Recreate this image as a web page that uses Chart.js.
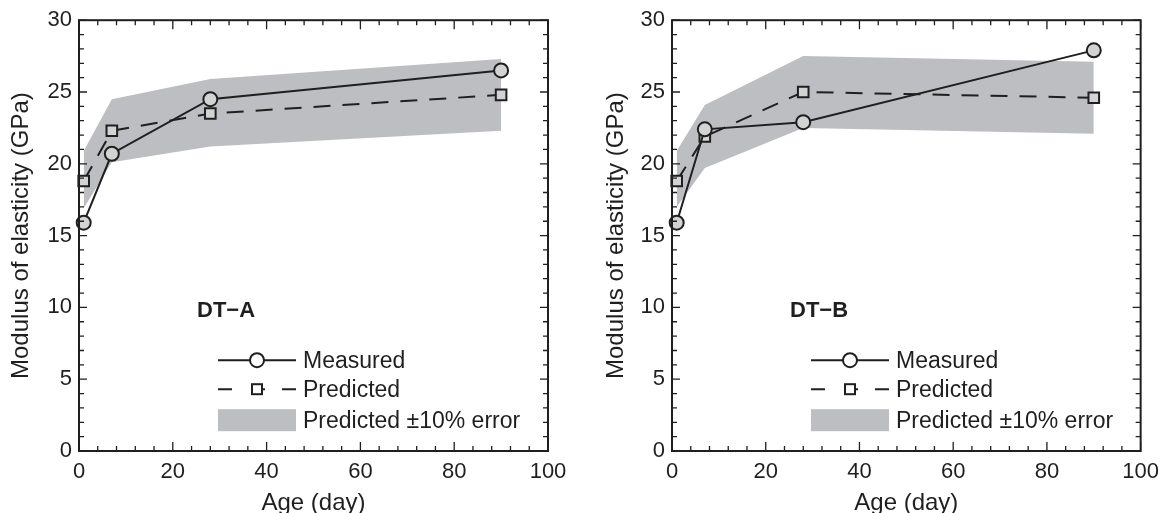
<!DOCTYPE html>
<html>
<head>
<meta charset="utf-8">
<script src="https://cdn.jsdelivr.net/npm/chart.js@4"></script>
<style>
  html, body { margin: 0; padding: 0; background: #fff; }
  .wrap { position: absolute; top: 0; height: 513px; }
  #boxA { left: 0; width: 583px; }
  #boxB { left: 595px; width: 572px; }
</style>
</head>
<body>
<div class="wrap" id="boxA"><canvas id="chartA"></canvas></div>
<div class="wrap" id="boxB"><canvas id="chartB"></canvas></div>
<script>
// ages where the specimens were tested
const ages = [1, 7, 28, 90];

// DT-A
const measuredA = [15.9, 20.7, 24.5, 26.5];
const predictedA = [18.8, 22.3, 23.5, 24.8];
const upperA = [20.9, 24.5, 25.9, 27.3];
const lowerA = [16.9, 20.1, 21.2, 22.3];

// DT-B
const measuredB = [15.9, 22.4, 22.9, 27.9];
const predictedB = [18.8, 21.9, 25.0, 24.6];
const upperB = [20.9, 24.1, 27.5, 27.1];
const lowerB = [17.0, 19.7, 22.5, 22.1];

const xTicks = [0, 20, 40, 60, 80, 100];
const yTicks = [0, 5, 10, 15, 20, 25, 30];
const legendLabels = ["Measured", "Predicted", "Predicted \u00b110% error"];

const FONT = "'Liberation Sans', Arial, Helvetica, sans-serif";
const INK = "#1f1f1f";
const BAND = "#bdbec1";
const MARKER = "#d3d3d3";

const pts = ys => ages.map((x, i) => ({ x, y: ys[i] }));

/* frame + inward ticks on all four sides */
const frameTicks = {
  id: "frameTicks",
  afterDraw(chart) {
    const { ctx, chartArea: a, scales } = chart;
    const xs = scales.x, ys = scales.y;
    ctx.save();
    ctx.strokeStyle = INK;
    ctx.lineWidth = 2;
    ctx.strokeRect(a.left, a.top, a.right - a.left, a.bottom - a.top);
    ctx.lineWidth = 1.3;
    ctx.beginPath();
    for (let v = 0; v <= 100; v += 4) {
      const len = v % 20 === 0 ? 9 : 5;
      const px = xs.getPixelForValue(v);
      ctx.moveTo(px, a.bottom); ctx.lineTo(px, a.bottom - len);
      ctx.moveTo(px, a.top); ctx.lineTo(px, a.top + len);
    }
    for (let v = 0; v <= 30; v += 1) {
      const len = v % 5 === 0 ? 8 : 5;
      const py = ys.getPixelForValue(v);
      ctx.moveTo(a.left, py); ctx.lineTo(a.left + len, py);
      ctx.moveTo(a.right, py); ctx.lineTo(a.right - len, py);
    }
    ctx.stroke();
    ctx.restore();
  }
};

/* legend and panel label inside the plot */
const innerLegend = {
  id: "innerLegend",
  afterDraw(chart) {
    const { ctx, chartArea: a } = chart;
    const tag = chart.options.plugins.innerLegend.tag;
    const L = a.left + 139, W = 78, mid = L + W / 2;
    const rows = [a.top + 340, a.top + 369, a.top + 400];
    ctx.save();
    ctx.fillStyle = INK;
    ctx.font = "bold 22px " + FONT;
    ctx.textBaseline = "middle";
    ctx.fillText(tag, a.left + 118, a.top + 291);

    ctx.strokeStyle = INK;
    ctx.lineWidth = 2;
    // measured
    ctx.beginPath();
    ctx.moveTo(L, rows[0]); ctx.lineTo(L + W, rows[0]);
    ctx.stroke();
    ctx.beginPath();
    ctx.arc(mid, rows[0], 7, 0, Math.PI * 2);
    ctx.fillStyle = "#fff";
    ctx.fill(); ctx.stroke();
    // predicted
    ctx.beginPath();
    ctx.moveTo(L, rows[1]); ctx.lineTo(L + 14, rows[1]);
    ctx.moveTo(L + W - 14, rows[1]); ctx.lineTo(L + W, rows[1]);
    ctx.moveTo(mid + 5, rows[1]); ctx.lineTo(mid + 8, rows[1]);
    ctx.stroke();
    ctx.fillRect(mid - 5, rows[1] - 5, 10, 10);
    ctx.strokeRect(mid - 5, rows[1] - 5, 10, 10);
    // band
    ctx.fillStyle = BAND;
    ctx.fillRect(L, rows[2] - 11, W, 22);

    ctx.fillStyle = INK;
    ctx.font = "23px " + FONT;
    legendLabels.forEach((t, i) => ctx.fillText(t, L + W + 7, rows[i] + 1));
    ctx.restore();
  }
};

function makeChart(id, measured, predicted, upper, lower, tag, yWidth, padRight) {
  return new Chart(document.getElementById(id), {
    type: "line",
    data: {
      datasets: [
        {
          label: "Measured",
          data: pts(measured),
          borderColor: INK,
          borderWidth: 2,
          pointStyle: "circle",
          pointRadius: 7,
          pointBorderWidth: 2,
          pointBorderColor: INK,
          pointBackgroundColor: MARKER,
          clip: false
        },
        {
          label: "Predicted",
          data: pts(predicted),
          borderColor: INK,
          borderWidth: 2,
          borderDash: [17, 12],
          pointStyle: "rect",
          pointRadius: 7.5,
          pointBorderWidth: 2,
          pointBorderColor: INK,
          pointBackgroundColor: MARKER,
          clip: false
        },
        {
          label: "upper",
          data: pts(upper),
          borderWidth: 0,
          pointRadius: 0,
          backgroundColor: BAND,
          fill: "+1",
          clip: false
        },
        {
          label: "lower",
          data: pts(lower),
          borderWidth: 0,
          pointRadius: 0,
          fill: false,
          clip: false
        }
      ]
    },
    options: {
      responsive: true,
      maintainAspectRatio: false,
      animation: false,
      events: [],
      layout: { padding: { top: 19, right: padRight, left: 0, bottom: 0 } },
      scales: {
        x: {
          type: "linear",
          min: 0,
          max: 100,
          afterBuildTicks: s => { s.ticks = xTicks.map(value => ({ value })); },
          afterFit: s => { s.height = 62; },
          grid: { display: false, drawTicks: false },
          border: { display: false },
          ticks: { color: INK, font: { family: FONT, size: 22 }, padding: 8, maxRotation: 0 },
          title: { display: true, text: "Age (day)", color: INK, font: { family: FONT, size: 24 }, padding: { top: 0, bottom: -5 } }
        },
        y: {
          min: 0,
          max: 30,
          afterBuildTicks: s => { s.ticks = yTicks.map(value => ({ value })); },
          afterFit: s => { s.width = yWidth; },
          grid: { display: false, drawTicks: false },
          border: { display: false },
          ticks: { color: INK, font: { family: FONT, size: 22 }, padding: 7 },
          title: { display: true, text: "Modulus of elasticity (GPa)", color: INK, font: { family: FONT, size: 24 }, padding: { top: 7, bottom: 0 } }
        }
      },
      plugins: {
        legend: { display: false },
        tooltip: { enabled: false },
        filler: { drawTime: "beforeDatasetsDraw" },
        innerLegend: { tag }
      }
    },
    plugins: [frameTicks, innerLegend]
  });
}

makeChart("chartA", measuredA, predictedA, upperA, lowerA, "DT\u2212A", 79, 35);
makeChart("chartB", measuredB, predictedB, upperB, lowerB, "DT\u2212B", 77, 26);
</script>
</body>
</html>
